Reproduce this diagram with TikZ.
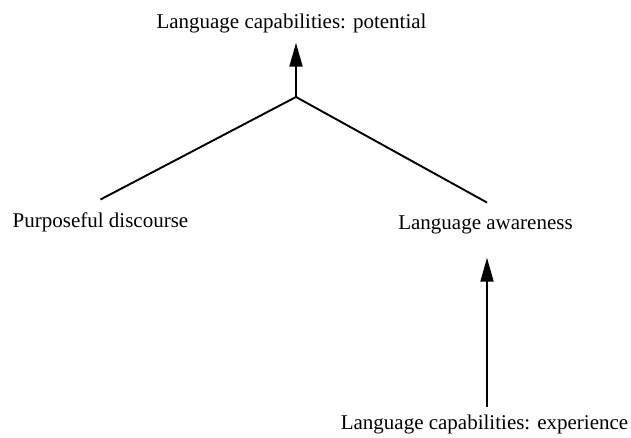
\documentclass[tikz,border=0pt]{standalone}
\usepackage{fontspec}
\setmainfont{Liberation Serif}
\usetikzlibrary{arrows.meta, positioning}

\begin{document}
\begin{tikzpicture}[
        line join=miter,
        labelnode/.style={inner sep=0pt, anchor=base, font=\fontsize{21}{25}\selectfont},
        linkline/.style={black, line width=1.9pt},
        arrowline/.style={black, line width=1.9pt, -{Triangle[length=24pt, width=13pt]}}
    ]
        % Frame
        \useasboundingbox (0pt, 0pt) rectangle (631pt, 438pt);
        % Labels
        \node[labelnode] (potential) at (291.5pt, 409pt) {Language capabilities: potential};
        \node[labelnode] (discourse) at (100.5pt, 210pt) {Purposeful discourse};
        \node[labelnode] (awareness) at (485.5pt, 208pt) {Language awareness};
        \node[labelnode] (experience) at (484.5pt, 8pt) {Language capabilities: experience};
        % Joint
        \coordinate (joint) at (296pt, 341pt);
        % Lines
        \draw[linkline] ([yshift=13.5pt]discourse.north) -- (joint) -- ([xshift=1.5pt, yshift=13.5pt]awareness.north);
        \draw[arrowline] (joint) -- ([yshift=-9pt]joint |- potential.south);
        \draw[arrowline] ([xshift=2.5pt, yshift=8.5pt]experience.north) -- ([xshift=1.5pt, yshift=-23pt]awareness.south);
\end{tikzpicture}
\end{document}
